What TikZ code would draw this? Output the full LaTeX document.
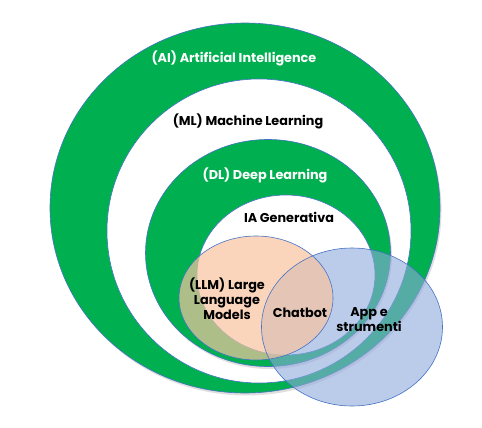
\documentclass[tikz,border=0pt]{standalone}
\usepackage{fontspec}
\setmainfont{Poppins}
\usetikzlibrary{shapes.geometric,shadows}
\definecolor{aigreen}{RGB}{0,176,80}
\definecolor{rim}{RGB}{68,114,196}
\definecolor{peach}{RGB}{248,196,160}
\definecolor{appblue}{RGB}{143,170,220}
\begin{document}
\begin{tikzpicture}[x=1pt,y=-1pt,
  ring/.style={ellipse, draw=rim, line width=0.6pt, inner sep=0pt},
  greenring/.style={ring, fill=aigreen, drop shadow={opacity=0.25, shadow xshift=1.5pt, shadow yshift=-2.5pt}},
  whitering/.style={ring, fill=white},
  blob/.style={ellipse, draw=none, inner sep=0pt},
  edge/.style={draw=rim, line width=0.6pt},
  lbl/.style={font=\fontsize{12.8}{15}\selectfont\bfseries, align=center, inner sep=0pt},
  wlbl/.style={lbl, text=white},
  klbl/.style={lbl, text=black}]
\useasboundingbox (0,0) rectangle (482,428);
\fill[white] (0,0) rectangle (482,428);
\node[greenring, minimum width=390pt, minimum height=370pt] (ai) at (245,208) {};
\node[whitering, minimum width=304pt, minimum height=304pt] (ml) at (259,231) {};
\node[greenring, minimum width=245pt, minimum height=227pt] (dl) at (268,253) {};
\node[whitering, minimum width=178pt, minimum height=160pt] (gen) at (286,275) {};
\node[blob, fill=appblue, fill opacity=0.6, minimum width=181pt, minimum height=158pt] (app) at (352,327) {};
\node[blob, fill=peach, fill opacity=0.7, minimum width=154pt, minimum height=124pt] (llm) at (256,298) {};
\draw[edge] (app.center) ellipse [x radius=90.5pt, y radius=79pt];
\draw[edge] (llm.center) ellipse [x radius=77pt, y radius=62pt];
\node[wlbl] (tai) at (234,58) {(AI) Artificial Intelligence};
\node[klbl] (tml) at (248,121) {(ML) Machine Learning};
\node[wlbl] (tdl) at (265,175) {(DL) Deep Learning};
\node[klbl] (tgen) at (289,217) {IA Generativa};
\node[klbl] (tllm) at (227,299) {(LLM) Large\\Language\\Models};
\node[klbl] (tchat) at (300,313) {Chatbot};
\node[klbl] (tapp) at (369,320) {App e\\strumenti};
\end{tikzpicture}
\end{document}
